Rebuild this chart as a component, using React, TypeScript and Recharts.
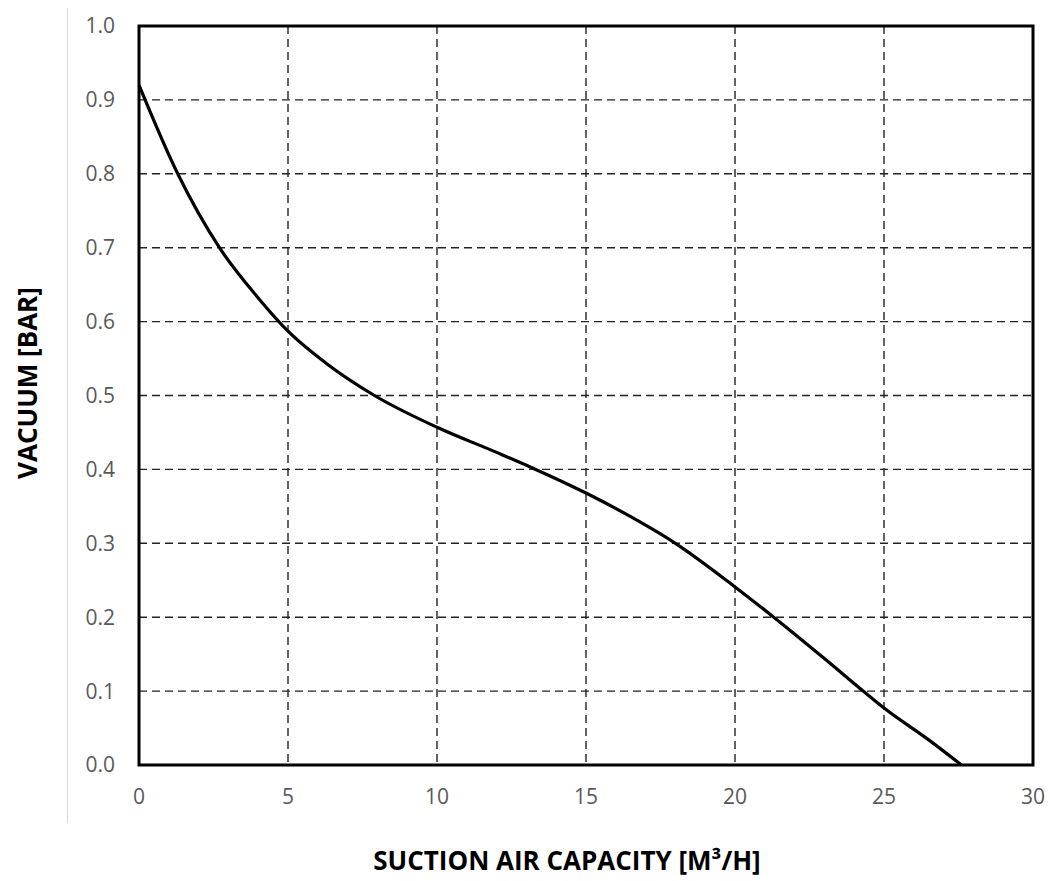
import React from 'react';
import { LineChart, Line, XAxis, YAxis, CartesianGrid, ReferenceArea } from 'recharts';

// suction air capacity [m3/h]
const capacity = [0, 1.3, 2.7, 4, 5, 6.3, 7.9, 10, 12, 13.2, 15, 16.5, 18, 20, 21.3, 23, 24.3, 25, 26.5, 27.6];
// vacuum [bar]
const vacuum = [0.92, 0.8, 0.7, 0.632, 0.587, 0.543, 0.5, 0.457, 0.423, 0.402, 0.368, 0.336, 0.3, 0.241, 0.2, 0.144, 0.1, 0.077, 0.034, 0];

const xTicks = [0, 5, 10, 15, 20, 25, 30];
const yTicks = [0, 0.1, 0.2, 0.3, 0.4, 0.5, 0.6, 0.7, 0.8, 0.9, 1.0];

const chartData = capacity.map((c, i) => ({ capacity: c, vacuum: vacuum[i] }));

const font = '"Open Sans", "Liberation Sans", sans-serif';

const App: React.FC = () => {
  return (
    <div style={{ position: 'absolute', left: 0, top: 0, width: 1050, height: 881, background: '#fff', fontFamily: font }}>
      <div style={{ position: 'absolute', left: 67, top: 8, width: 0, height: 815, borderLeft: '1.5px solid #d9d9d9' }} />
      <LineChart
        width={1050}
        height={881}
        data={chartData}
        margin={{ top: 26, right: 17, bottom: 76, left: 0 }}
      >
        <CartesianGrid stroke="#222" strokeWidth={1.4} strokeDasharray="8 5" />
        <XAxis
          dataKey="capacity"
          type="number"
          domain={[0, 30]}
          ticks={xTicks}
          height={40}
          axisLine={false}
          tickLine={false}
          tickSize={0}
          tickMargin={24}
          tick={{ fill: '#595959', fontSize: 21, fontFamily: font }}
        />
        <YAxis
          type="number"
          domain={[0, 1]}
          ticks={yTicks}
          width={139}
          axisLine={false}
          tickLine={false}
          tickSize={0}
          tickMargin={24}
          tickFormatter={(v: number) => v.toFixed(1)}
          tick={{ fill: '#595959', fontSize: 21, fontFamily: font }}
        />
        <ReferenceArea x1={0} x2={30} y1={0} y2={1} fill="none" stroke="#000" strokeWidth={3} />
        <Line
          dataKey="vacuum"
          type="monotone"
          stroke="#000"
          strokeWidth={3.2}
          dot={false}
          isAnimationActive={false}
        />
      </LineChart>
      <div style={{ position: 'absolute', left: 0, width: 1134, top: 845, textAlign: 'center', fontSize: 26, fontWeight: 700, color: '#000', lineHeight: '30px' }}>
        SUCTION AIR CAPACITY [M³/H]
      </div>
      <div style={{ position: 'absolute', left: 27, top: 383, width: 0, height: 0 }}>
        <div style={{ position: 'absolute', left: -150, top: -15, width: 300, textAlign: 'center', transform: 'rotate(-90deg)', fontSize: 26, fontWeight: 700, color: '#000', lineHeight: '30px', whiteSpace: 'nowrap' }}>
          VACUUM [BAR]
        </div>
      </div>
    </div>
  );
};

export default App;
